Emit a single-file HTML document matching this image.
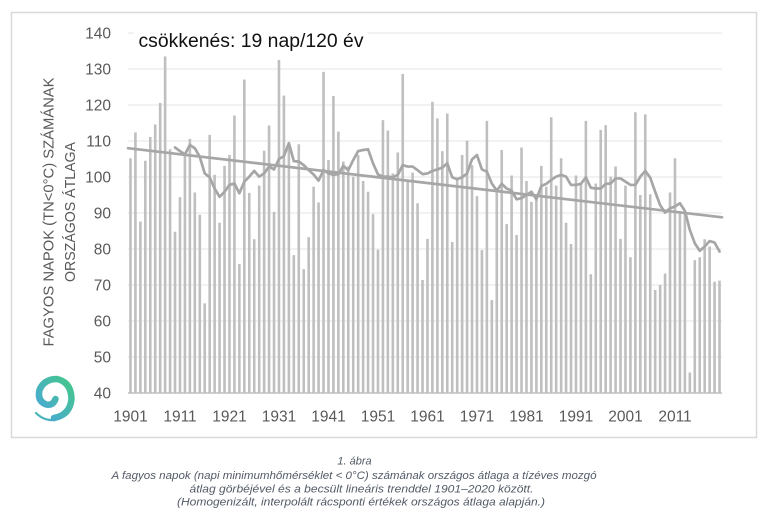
<!DOCTYPE html>
<html>
<head>
<meta charset="utf-8">
<style>
  html,body{margin:0;padding:0;background:#fff;}
  svg{display:block;}
  text{font-family:"Liberation Sans", Arial, sans-serif;}
</style>
</head>
<body>
<svg width="769" height="524" viewBox="0 0 769 524" xmlns="http://www.w3.org/2000/svg">
  <defs>
    <linearGradient id="lg" x1="0" y1="1" x2="1" y2="0">
      <stop offset="0" stop-color="#4aa6dc"/>
      <stop offset="1" stop-color="#45c78a"/>
    </linearGradient>
  </defs>
  <rect x="0" y="0" width="769" height="524" fill="#fff"/>
  <!-- chart border -->
  <rect x="11.5" y="12.5" width="745" height="425" fill="none" stroke="#d9d9d9" stroke-width="1.5"/>

  <!-- gridlines -->
  <path d="M128 33H722M128 69H722M128 105H722M128 141H722M128 177H722M128 213H722M128 249H722M128 285H722M128 321H722M128 357H722" stroke="#e9e9e9" stroke-width="1.2" fill="none"/>

  <!-- bars -->
  <g transform="translate(130.475,537) scale(4.95,-3.6)">
    <path fill="none" stroke="#bfbfbf" stroke-width="0.525" d="M0 40V105.2M1 40V112.4M2 40V87.6M3 40V104.5M4 40V111.1M5 40V114.6M6 40V120.6M7 40V133.5M8 40V107.7M9 40V84.8M10 40V94.4M11 40V106.1M12 40V110.6M13 40V95.7M14 40V89.5M15 40V64.9M16 40V111.7M17 40V100.6M18 40V87.3M19 40V103.1M20 40V106.1M21 40V117.1M22 40V75.8M23 40V127.1M24 40V95.6M25 40V82.7M26 40V97.6M27 40V107.3M28 40V114.3M29 40V90.3M30 40V132.5M31 40V122.6M32 40V109.5M33 40V78.3M34 40V109.1M35 40V74.4M36 40V83.3M37 40V97.3M38 40V92.9M39 40V129.2M40 40V104.7M41 40V122.5M42 40V112.6M43 40V104.3M44 40V102.9M45 40V100.1M46 40V106.1M47 40V98.9M48 40V95.9M49 40V89.7M50 40V79.8M51 40V115.8M52 40V112.9M53 40V101M54 40V106.8M55 40V128.6M56 40V99.2M57 40V101.2M58 40V92.7M59 40V71.4M60 40V82.8M61 40V120.9M62 40V116.3M63 40V107.2M64 40V117.6M65 40V81.9M66 40V99.6M67 40V106.1M68 40V110.1M69 40V103.3M70 40V94.7M71 40V79.7M72 40V115.6M73 40V65.8M74 40V96.4M75 40V107.5M76 40V86.9M77 40V100.4M78 40V83.9M79 40V108.2M80 40V98.9M81 40V93.1M82 40V95.3M83 40V103.1M84 40V97.3M85 40V116.6M86 40V97.6M87 40V105.2M88 40V87.3M89 40V81.4M90 40V100.4M91 40V98.1M92 40V115.6M93 40V73M94 40V98.2M95 40V113.1M96 40V114.4M97 40V100.1M98 40V102.9M99 40V82.8M100 40V97.6M101 40V77.7M102 40V118M103 40V95M104 40V117.4M105 40V95.2M106 40V68.6M107 40V70M108 40V73.2M109 40V95.7M110 40V105.2M111 40V90.6M112 40V90.4M113 40V45.7M114 40V76.9M115 40V77.7M116 40V82.7M117 40V80.7M118 40V70.9M119 40V71.2"/>
    <!-- moving average -->
    <polyline fill="none" stroke="#a6a6a6" stroke-width="2.7" vector-effect="non-scaling-stroke" stroke-linejoin="round" stroke-linecap="round"
      points="9,108.2 10,107.2 11,106.3 12,108.9 13,108 14,105.6 15,101 16,99.9 17,96.8 18,94.5 19,95.9 20,97.8 21,98.2 22,95.5 23,98.7 24,100.1 25,101.7 26,100.1 27,101 28,102.9 29,102.1 30,105 31,105.8 32,109.4 33,104.4 34,104.3 35,103.3 36,101.9 37,100.7 38,99 39,101.9 40,101 41,100.6 42,100.8 43,103.1 44,101.9 45,104.7 46,107.2 47,107.5 48,107.7 49,103.8 50,100.7 51,100.1 52,100.1 53,99.9 54,100.6 55,103.3 56,102.9 57,102.9 58,101.9 59,100.8 60,101 61,101.7 62,102.1 63,102.6 64,103.8 65,99.9 66,99.4 67,99.9 68,101 69,104.9 70,106.1 71,102.1 72,101.5 73,98.2 74,96.2 75,98.1 76,96.8 77,96.2 78,93.8 79,94.1 80,95 81,95.9 82,93.8 83,97.5 84,98.1 85,99.2 86,100.1 87,100.6 88,100.1 89,97.8 90,97.8 91,98.1 92,99.9 93,97 94,96.8 95,96.8 96,98.1 97,98.2 98,99.6 99,99.6 100,98.7 101,97.8 102,97.8 103,100.1 104,101.7 105,99.8 106,95.9 107,92.2 108,90.1 109,91.3 110,91.8 111,92.7 112,90.6 113,85.3 114,81.6 115,79.5 116,80.7 117,82.2 118,81.8 119,79.3"/>
    <!-- linear trend -->
    <path d="M-0.5 108L119.5 88.8" fill="none" stroke="#a6a6a6" stroke-width="2.7" vector-effect="non-scaling-stroke" stroke-linecap="round"/>
  </g>

  <!-- x axis line -->
  <path d="M128 393H722" stroke="#bfbfbf" stroke-width="1.5"/>

  <!-- title box -->
  <rect x="134" y="27" width="234" height="26" fill="#fff"/>
  <text x="138.5" y="47" font-size="19" fill="#111" textLength="225" lengthAdjust="spacingAndGlyphs">csökkenés: 19 nap/120 év</text>

  <!-- y tick labels -->
  <g font-size="15.5" fill="#595959" text-anchor="end">
    <text x="111" y="38.5">140</text>
    <text x="111" y="74.5">130</text>
    <text x="111" y="110.5">120</text>
    <text x="111" y="146.5">110</text>
    <text x="111" y="182.5">100</text>
    <text x="111" y="218.5">90</text>
    <text x="111" y="254.5">80</text>
    <text x="111" y="290.5">70</text>
    <text x="111" y="326.5">60</text>
    <text x="111" y="362.5">50</text>
    <text x="111" y="398.5">40</text>
  </g>

  <!-- x tick labels -->
  <g font-size="15.5" fill="#595959" text-anchor="middle">
    <text x="130.5" y="421.5">1901</text>
    <text x="180" y="421.5">1911</text>
    <text x="229.5" y="421.5">1921</text>
    <text x="279" y="421.5">1931</text>
    <text x="328.5" y="421.5">1941</text>
    <text x="378" y="421.5">1951</text>
    <text x="427.5" y="421.5">1961</text>
    <text x="477" y="421.5">1971</text>
    <text x="526.5" y="421.5">1981</text>
    <text x="576" y="421.5">1991</text>
    <text x="625.5" y="421.5">2001</text>
    <text x="675" y="421.5">2011</text>
  </g>

  <!-- y axis title -->
  <g font-size="15" fill="#595959" text-anchor="middle">
    <text transform="translate(53.5,212) rotate(-90)" textLength="269" lengthAdjust="spacingAndGlyphs">FAGYOS NAPOK (TN&lt;0°C) SZÁMÁNAK</text>
    <text transform="translate(75,212) rotate(-90)" textLength="140" lengthAdjust="spacingAndGlyphs">ORSZÁGOS ÁTLAGA</text>
  </g>

  <!-- logo -->
  <g fill="none" stroke="url(#lg)" stroke-linecap="round">
    <path d="M36 413 Q44 421 55 420" stroke-width="2.2"/>
    <path d="M54 418 Q70 415 71.5 399 Q71 382 57 379 Q44 379 39.5 390 Q37 401 46 404.5 Q53 406 55.5 399" stroke-width="6.5"/>
  </g>

  <!-- caption -->
  <g font-size="11" fill="#525a66" font-style="italic" text-anchor="middle">
    <text x="354.5" y="464.5">1. ábra</text>
    <text x="354" y="479" textLength="485" lengthAdjust="spacingAndGlyphs">A fagyos napok (napi minimumhőmérséklet &lt; 0°C) számának országos átlaga a tízéves mozgó</text>
    <text x="361.5" y="492.5" textLength="344" lengthAdjust="spacingAndGlyphs">átlag görbéjével és a becsült lineáris trenddel 1901–2020 között.</text>
    <text x="361" y="505.5" textLength="368" lengthAdjust="spacingAndGlyphs">(Homogenizált, interpolált rácsponti értékek országos átlaga alapján.)</text>
  </g>
</svg>
</body>
</html>
